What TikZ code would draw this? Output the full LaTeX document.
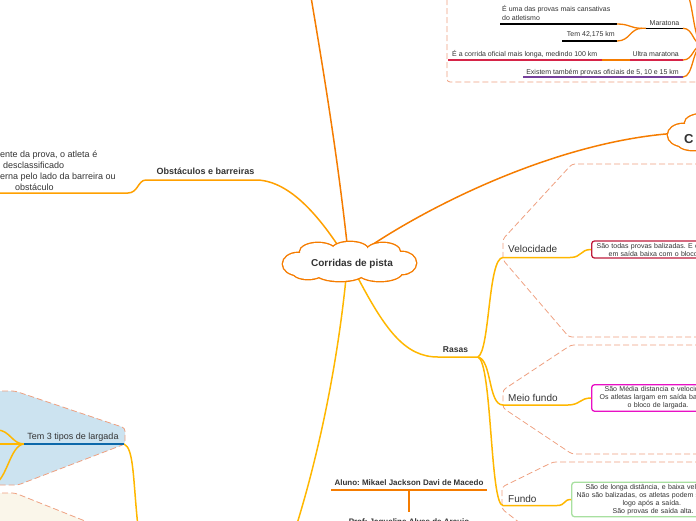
\documentclass[tikz,border=0pt]{standalone}
\usepackage{fontspec}
\setmainfont{Liberation Sans}
\usetikzlibrary{shapes.geometric, positioning, calc}
\frenchspacing

\definecolor{mapOrange}{RGB}{245,124,0}
\definecolor{mapAmber}{RGB}{255,160,0}
\definecolor{mapGold}{RGB}{255,183,0}
\definecolor{edgePeach}{RGB}{238,160,128}
\definecolor{textDark}{RGB}{51,51,51}
\definecolor{boxCrimson}{RGB}{192,28,60}
\definecolor{boxMagenta}{RGB}{232,16,196}
\definecolor{boxGreen}{RGB}{168,224,160}
\definecolor{lineCrimson}{RGB}{214,36,72}
\definecolor{linePurple}{RGB}{118,64,156}
\definecolor{lineBlue}{RGB}{12,104,170}
\definecolor{fillBlue}{RGB}{204,227,240}
\definecolor{fillCream}{RGB}{250,246,234}

\tikzset{
  cloudCore/.style={ellipse, minimum width=110pt, minimum height=24pt, inner sep=0pt},
  boundary/.style={draw=edgePeach, line width=0.8pt, dash pattern=on 6pt off 3pt, rounded corners=3pt},
  branch/.style={line width=1.5pt},
  leafLine/.style={line width=1.3pt},
  bigText/.style={font=\fontsize{10}{12}\selectfont, text=textDark, inner sep=0pt},
  boldText/.style={font=\bfseries\fontsize{9}{11}\selectfont, text=textDark, inner sep=0pt},
  smallText/.style={font=\fontsize{7}{9}\selectfont, text=textDark, inner sep=0pt},
  noteBox/.style={draw, line width=1.3pt, rounded corners=3pt, fill=white,
    font=\fontsize{7}{8}\selectfont, text=textDark, align=left,
    inner xsep=5pt, inner ysep=2pt, text width=140pt}
}

% puffs of a cloud: x/y offset, x radius, y radius
\newcommand{\puffList}{-51/2/15/11, -31/-10/18/9, 1/-12/18/8, 34/-10/17/9, 53/1/14/11, 31/10/22/9, -9/11/24/8, -41/9/16/8}

\begin{document}
\begin{tikzpicture}[x=1pt, y=-1pt]
  \useasboundingbox (0,0) rectangle (696,520);
  \clip (0,0) rectangle (696,520);

  % Boundaries
  \draw[boundary] (447,-10) -- (447,82) -- (710,82);
  \draw[boundary] (710,164) -- (572,164) -- (503,239) -- (503,260) -- (569,337) -- (710,337);
  \draw[boundary] (710,345) -- (571,345) -- (503,390) -- (503,408) -- (572,454) -- (710,454);
  \draw[boundary] (710,462) -- (553,462) -- (502,487) -- (502,509) -- (525,527);
  \draw[boundary, fill=fillBlue] (-10,391) -- (15,391) -- (125,428) -- (125,444) -- (18,485) -- (-10,485) -- cycle;
  \draw[boundary, fill=fillCream] (-10,493) -- (15,493) -- (100,527) -- (-10,527) -- cycle;

  % Topics (cores, for the lines)
  \node[cloudCore] (centre) at (349,262) {};
  \node[cloudCore] (rightCloud) at (734,133) {};

  % Lines from the centre
  \coordinate (topEnd) at (311,-3);
  \coordinate (bottomEnd) at (296,527);
  \draw[branch, mapOrange] (centre.96) .. controls (338,160) and (325,80) .. (topEnd);
  \draw[branch, mapOrange] (centre.38) .. controls (430,205) and (560,140) .. (rightCloud.west);
  \draw[branch, mapGold] (centre.-102) .. controls (338,360) and (320,450) .. (bottomEnd);

  % Obstaculos
  \coordinate (obstR) at (258,180);
  \coordinate (obstL) at (146,180);
  \coordinate (obstLeaf) at (-5,193);
  \node[boldText, anchor=base] (obst) at (205.5,174) {Obstáculos e barreiras};
  \draw[branch, mapAmber] (centre.124) .. controls (318,215) and (290,182) .. (obstR) -- (obstL)
    .. controls (138,180) and (138,193) .. (128,193) -- (obstLeaf);
  \node[anchor=north west, align=left, font=\fontsize{9}{11}\selectfont, text=textDark, inner sep=0pt] (obstNote) at (0,151)
    {ente da prova, o atleta é\\\hspace*{3pt}desclassificado\\erna pelo lado da barreira ou\\\hspace*{15pt}obstáculo};

  % Rasas
  \coordinate (rasasL) at (438,357);
  \coordinate (rasasR) at (478,357);
  \node[font=\bfseries\fontsize{8.5}{10}\selectfont, text=textDark, inner sep=0pt, anchor=base] (rasas) at (455.5,352) {Rasas};
  \draw[branch, mapGold] (centre.-60) .. controls (385,330) and (405,357) .. (rasasL) -- (rasasR);

  % Clouds drawn over the line ends
  \foreach \c in {centre, rightCloud} {
    \begin{scope}[shift={(\c.center)}]
      \foreach \px/\py/\rx/\ry in \puffList
        \draw[mapOrange, line width=2.8pt] (\px,\py) ellipse [x radius=\rx pt, y radius=\ry pt];
      \foreach \px/\py/\rx/\ry in \puffList
        \fill[white] (\px,\py) ellipse [x radius=\rx pt, y radius=\ry pt];
      \fill[white] (0,0) ellipse [x radius=52pt, y radius=11pt];
    \end{scope}
  }
  \node[font=\bfseries\fontsize{10}{12}\selectfont, text=textDark, inner sep=0pt, anchor=base] (centreTitle) at (352,266.5) {Corridas de pista};
  \node[anchor=base west, font=\bfseries\fontsize{13}{15}\selectfont, text=textDark, inner sep=0pt] (rightTitle) at (684,143) {C};

  % Velocidade
  \coordinate (veloL) at (503,257.5);
  \coordinate (veloR) at (570,257.5);
  \node[bigText, anchor=base west] (velo) at (508,252) {Velocidade};
  \node[noteBox, draw=boxCrimson, anchor=west] (veloNote) at (591,249.5)
    {São todas provas balizadas. E o\\\hspace*{12pt}em saída baixa com o bloco};
  \draw[branch, mapGold] (rasasR) .. controls (490,350) and (488,257.5) .. (veloL) -- (veloR)
    .. controls (582,257.5) and (580,249.5) .. (veloNote.west);

  % Meio fundo
  \coordinate (meioL) at (503,405);
  \coordinate (meioR) at (568,405);
  \node[bigText, anchor=base west] (meio) at (508,401.5) {Meio fundo};
  \node[noteBox, draw=boxMagenta, anchor=west, inner xsep=8pt] (meioNote) at (591,398)
    {\hspace*{5pt}São Média distancia e velocid\\Os atletas largam em saída bab\\\hspace*{28pt}o bloco de largada.};
  \draw[branch, mapGold] (rasasR) .. controls (492,360) and (488,405) .. (meioL) -- (meioR)
    .. controls (580,405) and (580,398) .. (meioNote.west);

  % Fundo
  \coordinate (fundoL) at (503,505.5);
  \coordinate (fundoR) at (557,505.5);
  \node[bigText, anchor=base west] (fundo) at (508,502.5) {Fundo};
  \node[noteBox, draw=boxGreen, anchor=west] (fundoNote) at (571,499.5)
    {\hspace*{9pt}São de longa distância, e baixa velo\\Não são balizadas, os atletas podem s\\\hspace*{46pt}logo após a saída.\\\hspace*{36pt}São provas de saída alta.};
  \draw[branch, mapGold] (rasasR) .. controls (492,362) and (490,505.5) .. (fundoL) -- (fundoR)
    .. controls (566,505.5) and (563,499.5) .. (fundoNote.west);

  % Maratona
  \coordinate (marParent) at (704,45);
  \coordinate (marLeafAL) at (500,24);
  \coordinate (marLeafAR) at (617,24);
  \coordinate (marLeafBL) at (562,41);
  \coordinate (marLeafBR) at (617,41);
  \coordinate (marL) at (642,28.3);
  \coordinate (marBlack) at (646,28.3);
  \coordinate (marR) at (683,28.3);
  \node[smallText, anchor=north west, align=left] (marLeafA) at (502,5.3) {É uma das provas mais cansativas\\do atletismo};
  \node[smallText, anchor=base east] (marLeafB) at (615,36.7) {Tem 42,175 km};
  \node[smallText, anchor=base] (mar) at (664.5,25) {Maratona};
  \draw[leafLine, black] (marLeafAL) -- (marLeafAR);
  \draw[leafLine, black] (marLeafBL) -- (marLeafBR);
  \draw[leafLine, mapOrange] (marLeafAR) .. controls (630,24) and (630,28.3) .. (marL) -- (marBlack);
  \draw[leafLine, mapOrange] (marLeafBR) .. controls (630,41) and (630,28.3) .. (marL);
  \draw[leafLine, black] (marBlack) -- (marR);

  % Ultra maratona
  \coordinate (ultraLeafL) at (448,60);
  \coordinate (ultraLeafR) at (602,60);
  \coordinate (ultraL) at (630,60);
  \coordinate (ultraR) at (683,60);
  \node[smallText, anchor=base west] (ultraLeaf) at (452,56.7) {É a corrida oficial mais longa, medindo 100 km};
  \node[smallText, anchor=base east] (ultra) at (679,56.7) {Ultra maratona};
  \draw[leafLine, lineCrimson] (ultraLeafL) -- (ultraLeafR);
  \draw[leafLine, mapOrange] (ultraLeafR) -- (ultraL);
  \draw[leafLine, lineCrimson] (ultraL) -- (ultraR);

  % Outras provas
  \coordinate (provasL) at (523,77);
  \coordinate (provasR) at (683,77);
  \node[smallText, anchor=base east] (provas) at (679,74) {Existem também provas oficiais de 5, 10 e 15 km};
  \draw[leafLine, linePurple] (provasL) -- (provasR);

  % To the parent on the right
  \coordinate (marAbove) at (683,-10);
  \draw[leafLine, mapOrange] (marAbove) .. controls (694,-10) and (692,45) .. (marParent);
  \draw[leafLine, mapOrange] (marR) .. controls (694,28.3) and (692,45) .. (marParent);
  \draw[leafLine, mapOrange] (ultraR) .. controls (694,60) and (692,45) .. (marParent);
  \draw[leafLine, mapOrange] (provasR) .. controls (694,77) and (692,45) .. (marParent);

  % Largada
  \coordinate (largL) at (24,444);
  \coordinate (largR) at (124,444);
  \coordinate (largUp) at (-3,430);
  \coordinate (largMid) at (-3,444);
  \coordinate (largDown) at (-6,484);
  \coordinate (largEnd) at (138,527);
  \node[font=\fontsize{9}{11}\selectfont, text=textDark, inner sep=0pt, anchor=base] (largada) at (73,439.5) {Tem 3 tipos de largada};
  \draw[branch, mapGold] (largL) .. controls (12,444) and (10,430) .. (largUp);
  \draw[branch, mapGold] (largL) -- (largMid);
  \draw[branch, mapGold] (largL) .. controls (10,445) and (7,480) .. (largDown);
  \draw[branch, mapGold] (largR) .. controls (134,448) and (133,480) .. (largEnd);
  \draw[branch, lineBlue] (largL) -- (largR);

  % Aluno e professora
  \coordinate (alunoL) at (331,490);
  \coordinate (alunoR) at (487,490);
  \coordinate (alunoMid) at (409,490);
  \coordinate (profTop) at (409,512);
  \node[font=\bfseries\fontsize{8}{10}\selectfont, text=textDark, inner sep=0pt, anchor=base] (aluno) at (409,485.7) {Aluno: Mikael Jackson Davi de Macedo};
  \node[font=\bfseries\fontsize{8}{10}\selectfont, text=textDark, inner sep=0pt, anchor=north] (prof) at (409,518.5) {Prof: Jaqueline Alves de Araujo};
  \draw[branch, mapOrange] (alunoL) -- (alunoR);
  \draw[branch, mapOrange] (alunoMid) -- (profTop);
\end{tikzpicture}
\end{document}
